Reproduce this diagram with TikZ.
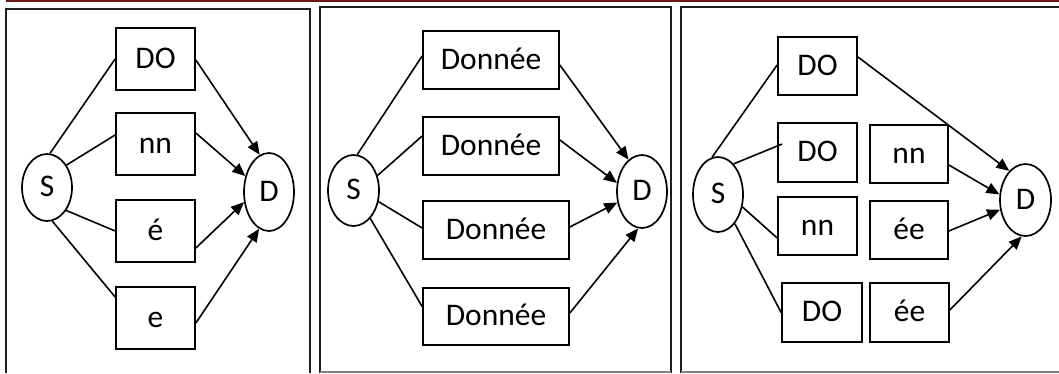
\documentclass[tikz,border=0pt]{standalone}
\usepackage{fontspec}
\setmainfont{Carlito}
\usetikzlibrary{arrows.meta,shapes.geometric}
\definecolor{rulered}{RGB}{105,24,24}
\definecolor{framegray}{RGB}{30,30,30}
\begin{document}
\begin{tikzpicture}[x=1pt,y=-1pt,
  lbl/.style={font=\fontsize{31.5}{37}\selectfont, text height=18pt, text depth=0pt, inner sep=0pt},
  blk/.style 2 args={lbl, draw, line width=1.7pt, minimum width=#1, minimum height=#2},
  ell/.style 2 args={lbl, ellipse, draw, line width=1.7pt, minimum width=#1, minimum height=#2},
  conn/.style={line width=1.6pt},
  arr/.style={line width=1.6pt, -{Triangle[length=13pt,width=11pt]}},
  frame/.style={draw=framegray, line width=2pt},
  base/.style={draw=gray, line width=1.3pt}
]
\useasboundingbox (0,0) rectangle (1059,373);

% top rule and panel frames
\draw[rulered, line width=2pt] (6,1) -- (1059,1);
\draw[frame] (6,373) -- (6,9) -- (310,9) -- (310,373);
\draw[frame] (320,373) -- (320,7) -- (671,7) -- (671,373);
\draw[frame] (681,373) -- (681,7) -- (1059,7);
\draw[base] (320,372) -- (671,372);
\draw[base] (681,372) -- (1059,372);

% ---- panel 1 ----
\node[ell={50pt}{67pt}] (s1) at (47,187.5) {S};
\node[ell={50pt}{78pt}] (d1) at (269,192) {D};
\node[blk={79pt}{62pt}] (a1) at (155.5,59) {DO};
\node[blk={79pt}{62pt}] (b1) at (155.5,144) {nn};
\node[blk={79pt}{62pt}] (c1) at (155.5,231) {é};
\node[blk={79pt}{62pt}] (e1) at (155.5,318) {e};
\draw[conn] (s1.85) -- (a1.west);
\draw[conn] (s1.49) -- ([yshift=9pt]b1.west);
\draw[conn] (s1.310) -- (c1.west);
\draw[conn] (s1.279) -- ([yshift=21pt]e1.west);
\draw[arr] ([yshift=-1pt]a1.east) -- (d1.104);
\draw[arr] ([yshift=11pt]b1.east) -- (d1.146);
\draw[arr] ([yshift=-17pt]c1.east) -- (d1.202);
\draw[arr] ([yshift=-5pt]e1.east) -- (d1.255);

% ---- panel 2 ----
\node[ell={51pt}{71pt}] (s2) at (353.5,190.5) {S};
\node[ell={50pt}{73pt}] (d2) at (642,191.5) {D};
\node[blk={136pt}{58pt}] (a2) at (491,60) {Donnée};
\node[blk={136pt}{58pt}] (b2) at (491,146) {Donnée};
\node[blk={146pt}{58pt}] (c2) at (496,230) {Donnée};
\node[blk={146pt}{57pt}] (e2) at (496,316.5) {Donnée};
\draw[conn] (s2.84) -- ([yshift=4pt]a2.west);
\draw[conn] (s2.32) -- ([yshift=10pt]b2.west);
\draw[conn] (s2.336) -- ([yshift=2pt]c2.west);
\draw[conn] (s2.301) -- ([yshift=10pt]e2.west);
\draw[arr] ([yshift=-5pt]a2.east) -- (d2.113);
\draw[arr] ([yshift=6pt]b2.east) -- (d2.161);
\draw[arr] ([yshift=3pt]c2.east) -- (d2.204);
\draw[arr] ([yshift=3.5pt]e2.east) -- (d2.264);

% ---- panel 3 ----
\node[ell={50pt}{75pt}] (s3) at (718,194.5) {S};
\node[ell={51pt}{72pt}] (d3) at (1025.5,200) {D};
\node[blk={79pt}{58pt}] (a3) at (817.5,66) {DO};
\node[blk={79pt}{59pt}] (b3) at (817.5,152.5) {DO};
\node[blk={79pt}{58pt}] (c3) at (817.5,226) {nn};
\node[blk={80pt}{59pt}] (e3) at (822,312.5) {DO};
\node[blk={78pt}{58pt}] (f3) at (909,154) {nn};
\node[blk={78pt}{58pt}] (g3) at (909,230) {ée};
\node[blk={79pt}{59pt}] (h3) at (909.5,312.5) {ée};
\draw[conn] (s3.99) -- ([yshift=1pt]a3.west);
\draw[conn] (s3.63) -- ([xshift=5pt,yshift=8.5pt]b3.west);
\draw[conn] (s3.333) -- ([yshift=-12pt]c3.west);
\draw[conn] (s3.300) -- (e3.west);
\draw[arr] ([yshift=9pt]a3.east) -- (d3.119);
\draw[arr] ([yshift=-11pt]f3.east) -- (d3.168);
\draw[arr] ([yshift=-1pt]g3.east) -- (d3.201);
\draw[arr] ([yshift=2.5pt]h3.east) -- (d3.264);
\end{tikzpicture}
\end{document}
